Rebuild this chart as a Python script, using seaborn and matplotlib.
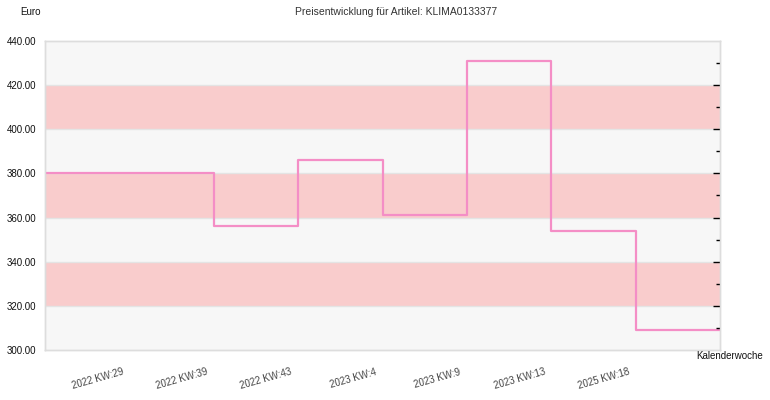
import matplotlib
matplotlib.use('Agg')
import matplotlib.pyplot as plt
import matplotlib.transforms as mtransforms
import seaborn as sns
import numpy as np
import pandas as pd

# price per step (step i runs from i to i+1)
prices = [380.0, 380.0, 356.0, 386.0, 361.0, 431.0, 354.0, 309.0]
weeks = ['2022 KW:29', '2022 KW:39', '2022 KW:43', '2023 KW:4',
         '2023 KW:9', '2023 KW:13', '2025 KW:18']
title = 'Preisentwicklung für Artikel: KLIMA0133377'

sns.set_theme(style='white')
plt.rcParams['font.family'] = ['Liberation Sans Narrow', 'Liberation Sans', 'DejaVu Sans']

# extra point so the last step is drawn to the right edge
df = pd.DataFrame({'x': np.arange(len(prices) + 1),
                   'price': prices + [prices[-1]]})

fig = plt.figure(figsize=(7.7, 4), dpi=100)
ax = fig.add_axes([45 / 770, 50 / 400, 675 / 770, 309 / 400])
ax.set_facecolor('#f7f7f7')

# alternating bands + grid lines
for lo in range(320, 440, 40):
    ax.axhspan(lo, lo + 20, color='#f9cccc', lw=0, zorder=0)
for yy in range(320, 440, 20):
    ax.axhline(yy, color='#e4e4e4', lw=1, zorder=0.5)

sns.lineplot(data=df, x='x', y='price', drawstyle='steps-post',
             color='#f48ec6', lw=1.6, ax=ax, zorder=3)

ax.set_xlim(0, len(prices))
ax.set_ylim(300, 440)
ax.set_xlabel('')
ax.set_ylabel('')

ax.set_yticks(np.arange(300, 441, 20))
ax.set_yticklabels([f'{v:.2f}' for v in np.arange(300, 441, 20)], fontsize=7, color='#111111')
ax.tick_params(axis='y', which='both', left=False, length=0, pad=6)

ax.set_xticks(np.arange(1, len(weeks) + 1))
ax.set_xticklabels(weeks, rotation=16, ha='right', va='top', fontsize=7, color='#444444')
ax.tick_params(axis='x', length=0, pad=12)
offset = mtransforms.ScaledTranslation(-5 / 100, 0, fig.dpi_scale_trans)
for lab in ax.get_xticklabels():
    lab.set_transform(lab.get_transform() + offset)

# small inward ticks on the right edge
ax2 = ax.twinx()
ax2.set_ylim(300, 440)
ax2.set_yticks(np.arange(320, 440, 20))
ax2.set_yticks(np.arange(310, 440, 20), minor=True)
ax2.tick_params(axis='y', which='major', direction='in', length=5, width=1, color='black', labelright=False)
ax2.tick_params(axis='y', which='minor', direction='in', length=3, width=1, color='black')
ax2.grid(False)

for a in (ax, ax2):
    for sp in a.spines.values():
        sp.set_color('#dddddd')
        sp.set_linewidth(1)

fig.text(396 / 770, 1 - 12 / 400, title, ha='center', va='center', fontsize=7.5, color='#333333')
fig.text(20 / 770, 1 - 12 / 400, 'Euro', ha='left', va='center', fontsize=7, color='#111111')
fig.text(763 / 770, 1 - 356 / 400, 'Kalenderwoche', ha='right', va='center', fontsize=7, color='#111111')

fig.savefig('out.png', dpi=100)
